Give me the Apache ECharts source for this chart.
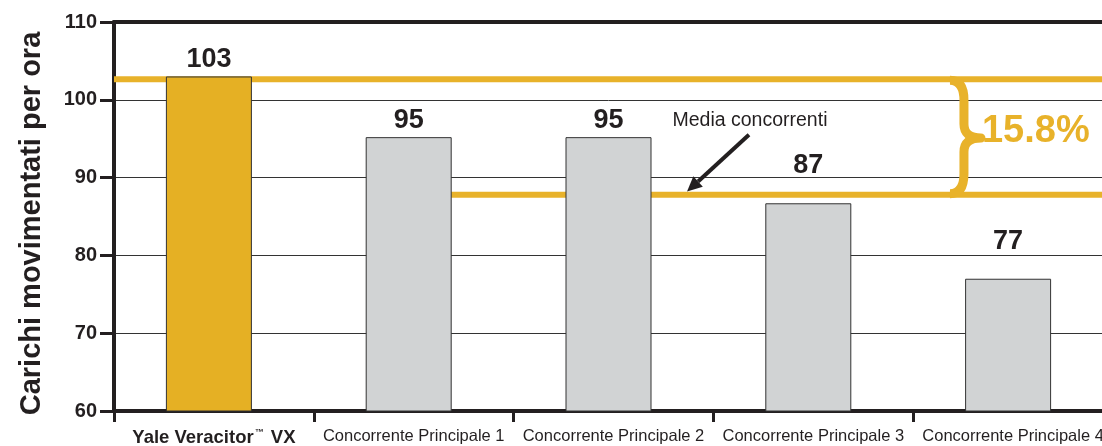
<!DOCTYPE html>
<html>
<head>
<meta charset="utf-8">
<script src="https://cdn.jsdelivr.net/npm/echarts@6/dist/echarts.min.js"></script>
<style>
html,body{margin:0;padding:0;background:#fff;overflow:hidden;}
#c{width:1102px;height:446px;}
</style>
</head>
<body>
<div id="c"></div>
<script>
// ---- data ----
const categories = ['Yale Veracitor™ VX', 'Concorrente Principale 1', 'Concorrente Principale 2', 'Concorrente Principale 3', 'Concorrente Principale 4'];
const values = [103, 95.2, 95.2, 86.7, 77];
const valueLabels = ['103', '95', '95', '87', '77'];
const yTicks = [60, 70, 80, 90, 100, 110];
const leaderLevel = 102.65;
const averageLevel = 87.8;
const gapText = '15.8%';
const averageText = 'Media concorrenti';
const yTitle = 'Carichi movimentati per ora';

// ---- annotation anchors (in axis units of the overlay value axis 0..5 / y axis) ----
const ann = {
  arrowTail: [3.178, 95.5],
  arrowTip: [2.868, 88.2],
  avgLabel: [3.183, 97.35],
  braceX: 4.184,
  gapLabelX: 4.344
};

const gold = '#E5B024';
const lineGold = '#E8B22A';
const gray = '#D1D3D4';
const ink = '#231F20';
const FF = '"Liberation Sans", Arial, sans-serif';

const chart = echarts.init(document.getElementById('c'), null, {renderer: 'canvas'});

const option = {
  animation: false,
  backgroundColor: '#ffffff',
  grid: {left: 114, top: 22, width: 999, height: 389, containLabel: false, outerBoundsMode: 'none'},
  xAxis: [
    {
      type: 'category',
      data: categories,
      position: 'bottom',
      axisLine: {show: true, lineStyle: {color: ink, width: 4}},
      axisTick: {show: true, length: 11, lineStyle: {color: ink, width: 3}},
      axisLabel: {
        interval: 0,
        margin: 17,
        color: ink,
        fontFamily: FF,
        fontSize: 16.5,
        hideOverlap: false,
        formatter: function (v, i) {
          if (i === 0) {
            const parts = v.split('™');
            return '{b|' + parts[0] + '}{s|™}{b|' + parts[1] + '}';
          }
          return v;
        },
        rich: {
          b: {fontWeight: 'bold', fontSize: 18.5, color: ink, fontFamily: FF, lineHeight: 20},
          s: {fontWeight: 'bold', fontSize: 9, color: ink, fontFamily: FF, verticalAlign: 'top', padding: [0, 2, 8, 1]}
        }
      },
      splitLine: {show: false}
    },
    {
      type: 'value',
      min: 0,
      max: 5,
      position: 'top',
      axisLine: {show: true, onZero: false, lineStyle: {color: ink, width: 4}},
      axisTick: {show: false},
      axisLabel: {show: false},
      splitLine: {show: false}
    }
  ],
  yAxis: {
    type: 'value',
    min: yTicks[0],
    max: yTicks[yTicks.length - 1],
    interval: 10,
    name: yTitle,
    nameLocation: 'middle',
    nameGap: 68,
    nameRotate: 90,
    nameTextStyle: {fontFamily: FF, fontWeight: 'bold', fontSize: 29, color: ink, padding: [0, 14, 0, 0]},
    axisLine: {show: true, lineStyle: {color: ink, width: 4}},
    axisTick: {show: true, length: 14, lineStyle: {color: ink, width: 3}},
    axisLabel: {margin: 17, color: ink, fontFamily: FF, fontWeight: 'bold', fontSize: 20},
    splitLine: {show: true, lineStyle: {color: '#333', width: 1}}
  },
  series: [
    {
      type: 'bar',
      xAxisIndex: 0,
      z: 5,
      barWidth: 86,
      barGap: '0%',
      data: values.map((v, i) => ({
        value: v,
        itemStyle: {color: i === 0 ? gold : gray},
        // labels of the bars below the average line sit above that line
        label: {distance: v < averageLevel ? 24 : 3}
      })),
      itemStyle: {borderColor: '#333', borderWidth: 1},
      label: {
        show: true,
        position: 'top',
        distance: 3,
        formatter: p => valueLabels[p.dataIndex],
        fontFamily: FF,
        fontWeight: 'bold',
        fontSize: 27,
        color: ink
      }
    },
    {
      // spacer series that only shifts the visible bars slightly left
      type: 'bar',
      xAxisIndex: 0,
      barWidth: 10,
      silent: true,
      data: values.map(() => null),
      itemStyle: {color: 'rgba(0,0,0,0)'}
    },
    {
      type: 'line',
      xAxisIndex: 1,
      z: 2,
      symbol: 'none',
      silent: true,
      lineStyle: {color: lineGold, width: 6},
      data: [[0, leaderLevel], [5, leaderLevel]]
    },
    {
      type: 'line',
      xAxisIndex: 1,
      z: 2,
      symbol: 'none',
      silent: true,
      lineStyle: {color: lineGold, width: 6},
      data: [[1.5, averageLevel], [5, averageLevel]]
    },
    {
      type: 'custom',
      xAxisIndex: 1,
      z: 10,
      silent: true,
      clip: false,
      data: [[2.5, 85]],
      renderItem: function (params, api) {
        const top = api.coord([ann.braceX, leaderLevel]);
        const bot = api.coord([ann.braceX, averageLevel]);
        const xL = top[0];
        const y0 = top[1] + 1;
        const y1 = bot[1] - 1;
        const ym = (y0 + y1) / 2 + 1;
        const xR = xL + 14;
        const xT = xL + 31;
        const r = 20;
        const r2 = 14;
        const braceD = 'M' + xL + ' ' + y0 +
          ' Q' + xR + ' ' + y0 + ' ' + xR + ' ' + (y0 + r) +
          ' L' + xR + ' ' + (ym - r2) +
          ' Q' + xR + ' ' + ym + ' ' + xT + ' ' + ym +
          ' Q' + xR + ' ' + ym + ' ' + xR + ' ' + (ym + r2) +
          ' L' + xR + ' ' + (y1 - r) +
          ' Q' + xR + ' ' + y1 + ' ' + xL + ' ' + y1;
        const gapPos = api.coord([ann.gapLabelX, (leaderLevel + averageLevel) / 2]);
        const tail = api.coord(ann.arrowTail);
        const tip = api.coord(ann.arrowTip);
        const dx = tip[0] - tail[0], dy = tip[1] - tail[1];
        const len = Math.sqrt(dx * dx + dy * dy);
        const ux = dx / len, uy = dy / len;
        const hl = 15, hw = 7;
        const bx = tip[0] - ux * hl, by = tip[1] - uy * hl;
        const head = [[tip[0], tip[1]], [bx - uy * hw, by + ux * hw], [bx + uy * hw, by - ux * hw]];
        const lbl = api.coord(ann.avgLabel);
        return {
          type: 'group',
          children: [
            {type: 'path', shape: {pathData: braceD}, style: {fill: null, stroke: lineGold, lineWidth: 9, lineCap: 'butt', lineJoin: 'round'}},
            {type: 'text', x: gapPos[0], y: gapPos[1] - 5, style: {text: gapText, fill: lineGold, font: 'bold 38px ' + FF, align: 'left', verticalAlign: 'middle'}},
            {type: 'line', shape: {x1: tail[0], y1: tail[1], x2: bx, y2: by}, style: {stroke: ink, lineWidth: 4}},
            {type: 'polygon', shape: {points: head}, style: {fill: ink}},
            {type: 'text', x: lbl[0], y: lbl[1], style: {text: averageText, fill: ink, font: '19.5px ' + FF, align: 'center', verticalAlign: 'middle'}}
          ]
        };
      }
    }
  ]
};

chart.setOption(option);
</script>
</body>
</html>
